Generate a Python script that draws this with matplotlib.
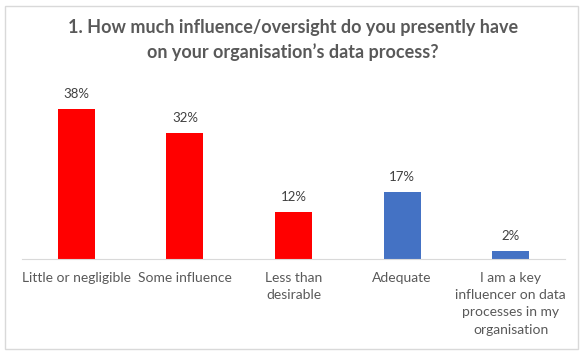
import matplotlib.pyplot as plt
import matplotlib.patches as patches

categories = ["Little or negligible", "Some influence", "Less than\ndesirable",
              "Adequate", "I am a key\ninfluencer on data\nprocesses in my\norganisation"]
values = [38, 32, 12, 17, 2]
bar_colors = ["#FF0000", "#FF0000", "#FF0000", "#4472C4", "#4472C4"]

title = "1. How much influence/oversight do you presently have\non your organisation\u2019s data process?"

plt.rcParams['font.family'] = ['Lato', 'DejaVu Sans']

fig = plt.figure(figsize=(5.86, 3.55), dpi=100)
fig.patch.set_facecolor('white')

# chart border
fig.patches.append(patches.Rectangle((5/586, 6/355), 573/586, 343/355,
                                     transform=fig.transFigure, fill=False,
                                     edgecolor='#D9D9D9', linewidth=1))

ax = fig.add_axes([22/586, (355-259)/355, 543/586, 171/355])
x = range(len(values))
bars = ax.bar(x, values, width=0.34, color=bar_colors)
ax.set_xlim(-0.5, 4.5)
ax.set_ylim(0, 43.3)

for b, v in zip(bars, values):
    ax.text(b.get_x() + b.get_width()/2, v + 2.2, f"{v}%", ha='center', va='bottom',
            fontsize=9.5, color='#404040')

ax.set_xticks(list(x))
ax.set_xticklabels(categories, fontsize=10, color='#595959', linespacing=1.55, va='top')
ax.tick_params(axis='x', length=0, pad=9)
ax.set_yticks([])
for s in ['top', 'right', 'left']:
    ax.spines[s].set_visible(False)
ax.spines['bottom'].set_color('#D9D9D9')

fig.text(0.5, 1 - 40/355, title, ha='center', va='center',
         fontsize=13, fontweight='bold', color='#595959', linespacing=1.45)

fig.savefig('out.png', dpi=100)
